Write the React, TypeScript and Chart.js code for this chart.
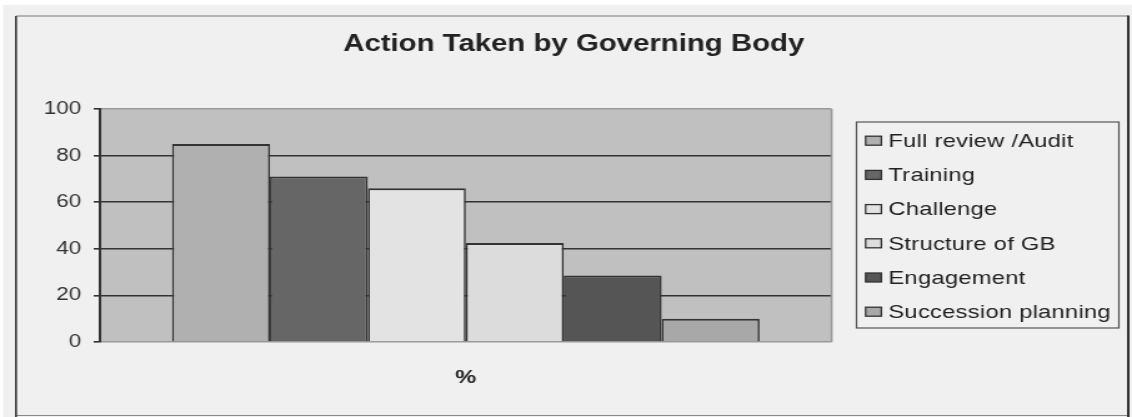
import React, { useEffect, useRef } from 'react';
import { Chart, registerables } from 'chart.js';

Chart.register(...registerables);

const categories = ['%'];
const seriesLabels = [
  'Full review /Audit',
  'Training',
  'Challenge',
  'Structure of GB',
  'Engagement',
  'Succession planning',
];
const seriesValues = [85, 71, 66, 42.5, 28.5, 10];
const seriesColors = ['#b0b0b0', '#666666', '#e3e3e3', '#dcdcdc', '#555555', '#a8a8a8'];
const titleText = 'Action Taken by Governing Body';
const yMin = 0;
const yMax = 100;
const yStep = 20;

const W = 906;
const H = 417;
const SX = 1132 / W;
const FONT = '"Liberation Sans", Arial, sans-serif';

export default function App() {
  const ref = useRef<HTMLCanvasElement>(null);

  useEffect(() => {
    const canvas = ref.current;
    if (!canvas) return;

    const framePlugin = {
      id: 'framePlugin',
      beforeDraw(chart: any) {
        const ctx = chart.ctx;
        const { left, top, right, bottom } = chart.chartArea;
        ctx.save();
        ctx.fillStyle = '#ffffff';
        ctx.fillRect(0, 0, W, H);
        ctx.fillStyle = '#f0f0f0';
        ctx.fillRect(2.4, 5, W - 2.4, H - 5);
        // outer frame
        ctx.lineWidth = 1.2;
        ctx.strokeStyle = '#777777';
        ctx.beginPath();
        ctx.moveTo(12.8, 16);
        ctx.lineTo(903, 16);
        ctx.stroke();
        ctx.strokeStyle = '#888888';
        ctx.beginPath();
        ctx.moveTo(12.8, 415.5);
        ctx.lineTo(903, 415.5);
        ctx.stroke();
        ctx.strokeStyle = '#333333';
        ctx.lineWidth = 1.6;
        ctx.beginPath();
        ctx.moveTo(12.8, 16);
        ctx.lineTo(12.8, 417);
        ctx.stroke();
        ctx.lineWidth = 2;
        ctx.beginPath();
        ctx.moveTo(903, 15.5);
        ctx.lineTo(903, 417);
        ctx.stroke();
        // plot background
        ctx.fillStyle = '#c0c0c0';
        ctx.fillRect(left, top, right - left, bottom - top);
        ctx.restore();
      },
      beforeDatasetsDraw(chart: any) {
        const ctx = chart.ctx;
        const { top, right, bottom } = chart.chartArea;
        ctx.save();
        ctx.strokeStyle = '#999999';
        ctx.lineWidth = 1.6;
        ctx.beginPath();
        ctx.moveTo(right, top);
        ctx.lineTo(right, bottom);
        ctx.stroke();
        ctx.restore();
      },
      afterDraw(chart: any) {
        const ctx = chart.ctx;
        ctx.save();
        // title
        ctx.fillStyle = '#222222';
        ctx.font = `bold 23.5px ${FONT}`;
        ctx.textAlign = 'center';
        ctx.textBaseline = 'alphabetic';
        ctx.fillText(titleText, 459.2, 50.5);
        // legend box
        const lx = 685.5;
        const ly = 122;
        const lw = 210;
        const lh = 206;
        ctx.strokeStyle = '#555555';
        ctx.lineWidth = 1.2;
        ctx.strokeRect(lx, ly, lw, lh);
        ctx.font = `19px ${FONT}`;
        ctx.textAlign = 'left';
        ctx.textBaseline = 'middle';
        try {
          (ctx as any).letterSpacing = '0.2px';
        } catch (e) {}
        chart.data.datasets.forEach((ds: any, i: number) => {
          const cy = 140.7 + i * 34.2;
          ctx.fillStyle = ds.backgroundColor;
          ctx.fillRect(692.8, cy - 4.5, 12.6, 9);
          ctx.strokeStyle = '#333333';
          ctx.lineWidth = 1.3;
          ctx.strokeRect(692.8, cy - 4.5, 12.6, 9);
          ctx.fillStyle = '#222222';
          ctx.fillText(ds.label, 711, cy + 1);
        });
        ctx.restore();
      },
    };

    const chart = new Chart(canvas, {
      type: 'bar',
      data: {
        labels: categories,
        datasets: seriesLabels.map((label, i) => ({
          label,
          data: [seriesValues[i]],
          backgroundColor: seriesColors[i],
          borderColor: '#333333',
          borderWidth: { top: 2, left: 1.6, right: 1.6, bottom: 0 },
          categoryPercentage: 0.803,
          barPercentage: 1,
        })),
      },
      options: {
        responsive: false,
        animation: false,
        devicePixelRatio: 1,
        layout: { padding: { left: 0, top: 109, right: W - 665.6, bottom: 0 } },
        plugins: {
          legend: { display: false },
          title: { display: false },
          tooltip: { enabled: false },
        },
        scales: {
          x: {
            grid: { display: false, drawTicks: false },
            border: { display: false },
            ticks: {
              font: { family: FONT, size: 19, weight: 'bold' },
              color: '#222222',
              padding: 24,
            },
            afterFit(scale: any) {
              scale.height = 75;
            },
          },
          y: {
            min: yMin,
            max: yMax,
            ticks: {
              stepSize: yStep,
              font: { family: FONT, size: 18 },
              color: '#333333',
              padding: 10,
            },
            grid: {
              color: (c: any) =>
                c.tick && (c.tick.value === yMin || c.tick.value === yMax) ? '#999999' : '#333333',
              lineWidth: 1.6,
              tickColor: '#333333',
              tickLength: 5,
              tickWidth: 1.6,
            },
            border: { color: '#333333', width: 2 },
            afterFit(scale: any) {
              scale.width = 80;
            },
          },
        },
      },
      plugins: [framePlugin],
    } as any);

    return () => chart.destroy();
  }, []);

  return (
    <div
      style={{
        position: 'absolute',
        left: 0,
        top: 0,
        width: W,
        height: H,
        transform: `scaleX(${SX})`,
        transformOrigin: '0 0',
      }}
    >
      <canvas ref={ref} width={W} height={H} style={{ display: 'block' }} />
    </div>
  );
}
